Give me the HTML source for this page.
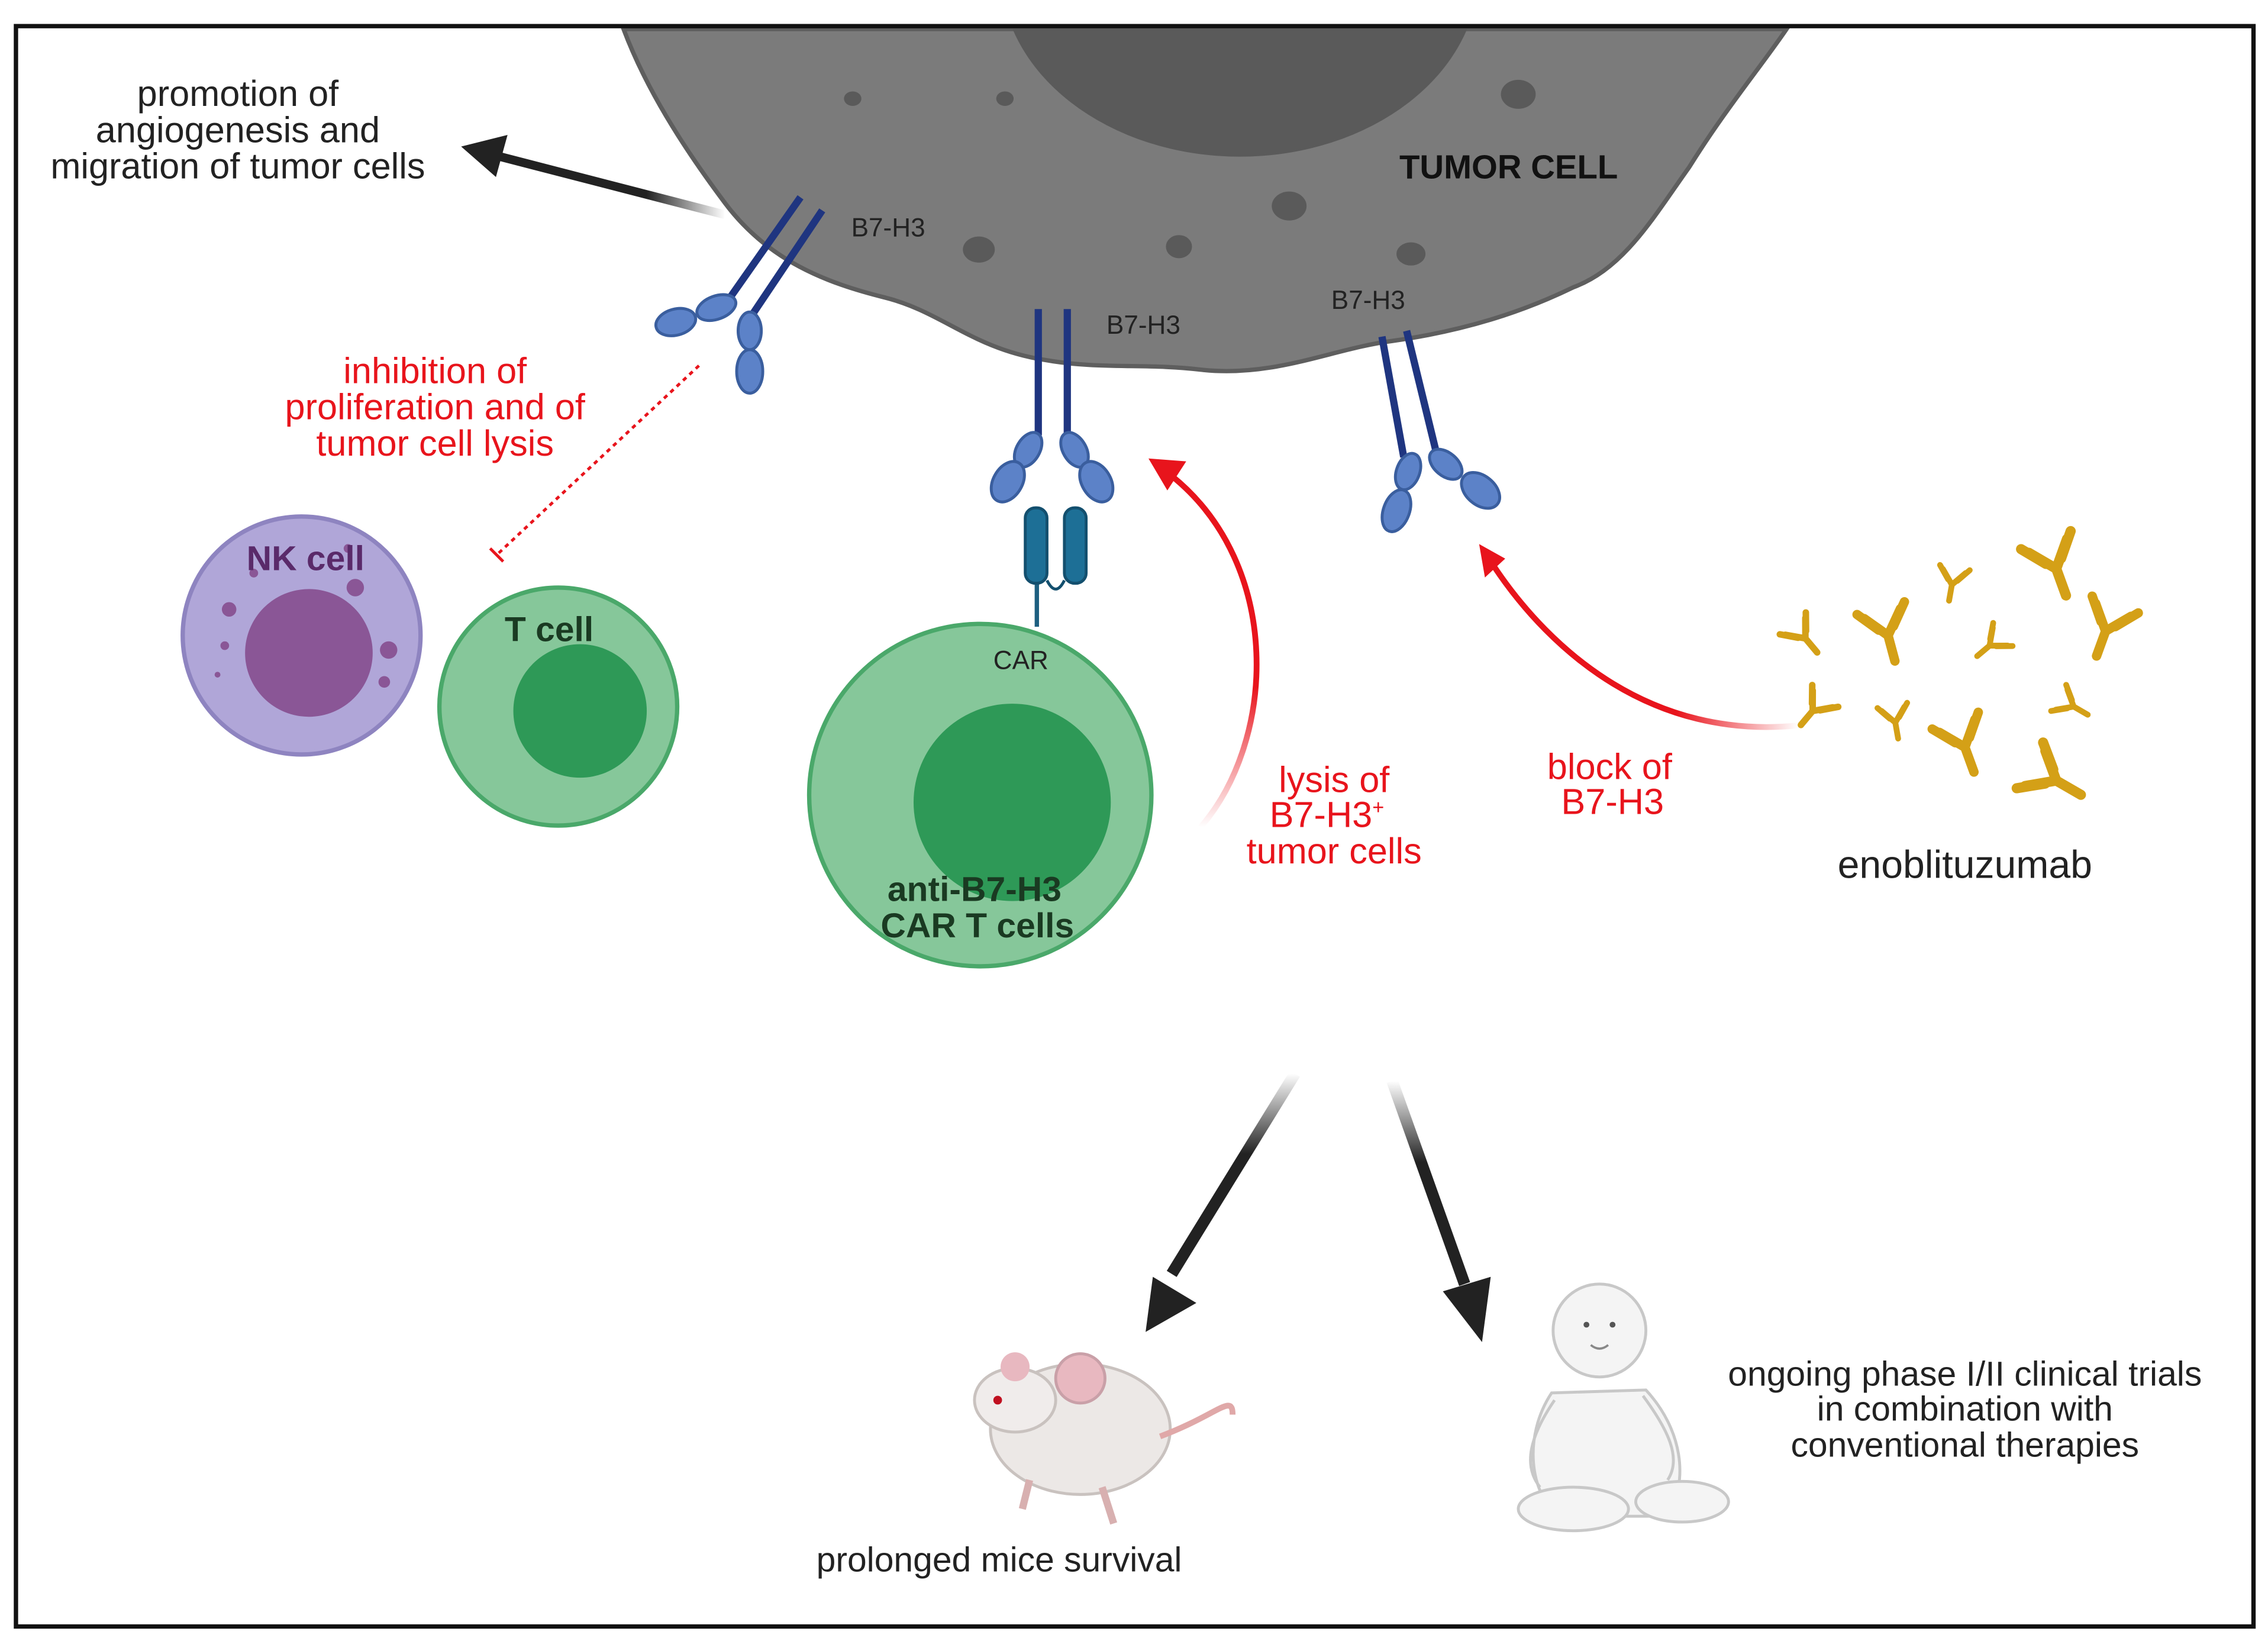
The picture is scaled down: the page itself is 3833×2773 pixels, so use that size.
<!DOCTYPE html>
<html><head><meta charset="utf-8"><style>
html,body{margin:0;padding:0;background:#fff;}
svg{display:block;}
text{font-family:"Liberation Sans",sans-serif;}
</style></head><body>
<svg width="3833" height="2773" viewBox="0 0 1564 1131" preserveAspectRatio="none" xmlns="http://www.w3.org/2000/svg">
<defs>
<linearGradient id="ga" x1="1" y1="0" x2="0" y2="0"><stop offset="0" stop-color="#222" stop-opacity="0"/><stop offset="0.35" stop-color="#222"/></linearGradient>
<linearGradient id="gd1" x1="0" y1="0" x2="0" y2="1"><stop offset="0" stop-color="#222" stop-opacity="0"/><stop offset="0.4" stop-color="#222"/></linearGradient>
<linearGradient id="gr1" x1="0" y1="1" x2="0" y2="0"><stop offset="0" stop-color="#e8141c" stop-opacity="0"/><stop offset="0.4" stop-color="#e8141c"/></linearGradient>
<linearGradient id="gr2" x1="1" y1="0" x2="0" y2="0"><stop offset="0" stop-color="#e8141c" stop-opacity="0"/><stop offset="0.4" stop-color="#e8141c"/></linearGradient>
<g id="ab" stroke="#d4a017" stroke-width="5" stroke-linecap="round" fill="none">
<path d="M0,0 L0,14 M0,0 L-10,-12 M0,0 L10,-12 M-4,-4 L-13,-15 M4,-4 L13,-15"/>
</g>
<clipPath id="tc"><path id="tcp" d="M430,20 C445,60 470,100 500,140 C530,180 570,195 610,205 C650,215 670,240 720,248 C760,255 790,250 830,255 C880,260 920,240 960,235 C1010,228 1050,215 1085,198 C1120,185 1140,150 1165,115 C1190,75 1215,45 1232,20 Z"/></clipPath>
</defs>
<rect x="0" y="0" width="1564" height="1131" fill="#fff"/>
<use href="#tcp" fill="#7b7b7b" stroke="#5e5e5e" stroke-width="3"/>
<ellipse cx="855" cy="-20" rx="165" ry="128" fill="#5a5a5a" clip-path="url(#tc)"/>
<g fill="#5a5a5a">
<ellipse cx="588" cy="68" rx="6" ry="5"/><ellipse cx="693" cy="68" rx="6" ry="5"/>
<ellipse cx="1047" cy="65" rx="12" ry="10"/><ellipse cx="889" cy="142" rx="12" ry="10"/>
<ellipse cx="675" cy="172" rx="11" ry="9"/><ellipse cx="813" cy="170" rx="9" ry="8"/>
<ellipse cx="973" cy="175" rx="10" ry="8"/>
</g>
<text x="965" y="123" font-size="23" font-weight="bold" fill="#111">TUMOR CELL</text>
<g stroke="#1f3580" stroke-width="5" fill="none">
<path d="M552,136 L500,210"/><path d="M567,145 L518,218"/>
<path d="M716,213 L716,300"/><path d="M736,213 L736,300"/>
<path d="M953,232 L968,315"/><path d="M970,228 L990,310"/>
</g>
<g fill="#5c82c8" stroke="#3a5e9e" stroke-width="2">
<ellipse cx="494" cy="212" rx="14" ry="8" transform="rotate(-20 494 212)"/>
<ellipse cx="466" cy="222" rx="14" ry="9" transform="rotate(-15 466 222)"/>
<ellipse cx="517" cy="228" rx="8" ry="13"/>
<ellipse cx="517" cy="256" rx="9" ry="15"/>
<ellipse cx="709" cy="310" rx="8" ry="13" transform="rotate(30 709 310)"/>
<ellipse cx="695" cy="332" rx="10" ry="15" transform="rotate(30 695 332)"/>
<ellipse cx="741" cy="310" rx="8" ry="13" transform="rotate(-30 741 310)"/>
<ellipse cx="756" cy="332" rx="10" ry="15" transform="rotate(-30 756 332)"/>
<ellipse cx="971" cy="325" rx="8" ry="13" transform="rotate(20 971 325)"/>
<ellipse cx="963" cy="352" rx="9" ry="15" transform="rotate(20 963 352)"/>
<ellipse cx="997" cy="320" rx="8" ry="13" transform="rotate(-50 997 320)"/>
<ellipse cx="1021" cy="338" rx="10" ry="15" transform="rotate(-50 1021 338)"/>
</g>
<text x="587" y="163" font-size="18" fill="#222">B7-H3</text>
<text x="763" y="230" font-size="18" fill="#222">B7-H3</text>
<text x="918" y="213" font-size="18" fill="#222">B7-H3</text>
<line x1="715" y1="395" x2="715" y2="432" stroke="#1d5f80" stroke-width="3"/>
<rect x="707" y="350" width="15" height="52" rx="7" fill="#1d6f96" stroke="#134f6e" stroke-width="2"/>
<rect x="734" y="350" width="15" height="52" rx="7" fill="#1d6f96" stroke="#134f6e" stroke-width="2"/>
<path d="M722,400 Q728,412 734,400" stroke="#134f6e" stroke-width="2" fill="none"/>
<circle cx="208" cy="438" r="82" fill="#b0a6d8" stroke="#8e84c0" stroke-width="3"/>
<circle cx="213" cy="450" r="44" fill="#8a5696"/>
<g fill="#8a5696"><circle cx="158" cy="420" r="5"/><circle cx="245" cy="405" r="6"/><circle cx="265" cy="470" r="4"/><circle cx="155" cy="445" r="3"/><circle cx="268" cy="448" r="6"/><circle cx="240" cy="378" r="3"/><circle cx="175" cy="395" r="3"/><circle cx="150" cy="465" r="2"/></g>
<text x="170" y="393" font-size="24" font-weight="bold" fill="#5a2a6a">NK cell</text>
<circle cx="385" cy="487" r="82" fill="#86c79a" stroke="#4aa86a" stroke-width="3"/>
<circle cx="400" cy="490" r="46" fill="#2e9957"/>
<text x="348" y="442" font-size="24" font-weight="bold" fill="#1a3a22">T cell</text>
<circle cx="676" cy="548" r="118" fill="#86c79a" stroke="#4aa86a" stroke-width="3"/>
<circle cx="698" cy="553" r="68" fill="#2e9957"/>
<text x="704" y="461" font-size="18" text-anchor="middle" fill="#222">CAR</text>
<text x="672" y="621" font-size="24" font-weight="bold" text-anchor="middle" fill="#1a3a22">anti-B7-H3</text>
<text x="674" y="646" font-size="24" font-weight="bold" text-anchor="middle" fill="#1a3a22">CAR T cells</text>
<g font-size="25" fill="#222" text-anchor="middle">
<text x="164" y="73">promotion of</text>
<text x="164" y="98">angiogenesis and</text>
<text x="164" y="123">migration of tumor cells</text>
</g>
<path d="M500,148 L345,108" stroke="url(#ga)" stroke-width="6"/>
<polygon points="318,101 350,93 342,122" fill="#222"/>
<g font-size="25" fill="#e8141c" text-anchor="middle">
<text x="300" y="264">inhibition of</text>
<text x="300" y="289">proliferation and of</text>
<text x="300" y="314">tumor cell lysis</text>
<text x="920" y="546">lysis of</text>
<text x="915" y="570">B7-H3<tspan font-size="14" dy="-9">+</tspan></text>
<text x="920" y="595">tumor cells</text>
<text x="1110" y="537">block of</text>
<text x="1112" y="561">B7-H3</text>
</g>
<path d="M482,252 L343,382" stroke="#e8141c" stroke-width="2" stroke-dasharray="3,3"/>
<line x1="338" y1="378" x2="347" y2="387" stroke="#e8141c" stroke-width="2"/>
<path d="M828,570 C880,510 885,390 808,328" stroke="url(#gr1)" stroke-width="4" fill="none"/>
<polygon points="792,316 818,318 805,338" fill="#e8141c"/>
<path d="M1240,500 C1140,510 1070,450 1030,390" stroke="url(#gr2)" stroke-width="4" fill="none"/>
<polygon points="1020,375 1038,385 1024,398" fill="#e8141c"/>
<use href="#ab" transform="translate(1418,392) rotate(-20) scale(1.4)"/>
<use href="#ab" transform="translate(1302,438) rotate(-15) scale(1.3)"/>
<use href="#ab" transform="translate(1452,435) rotate(20) scale(1.3)"/>
<use href="#ab" transform="translate(1346,403) rotate(10) scale(0.8)"/>
<use href="#ab" transform="translate(1245,440) rotate(-40) scale(0.9)"/>
<use href="#ab" transform="translate(1372,445) rotate(50) scale(0.8)"/>
<use href="#ab" transform="translate(1250,490) rotate(40) scale(0.9)"/>
<use href="#ab" transform="translate(1307,498) rotate(-10) scale(0.8)"/>
<use href="#ab" transform="translate(1430,487) rotate(-60) scale(0.8)"/>
<use href="#ab" transform="translate(1355,515) rotate(-20) scale(1.3)"/>
<use href="#ab" transform="translate(1418,538) rotate(-60) scale(1.4)"/>
<text x="1355" y="605" font-size="27" fill="#222" text-anchor="middle">enoblituzumab</text>
<path d="M893,740 L808,878" stroke="url(#gd1)" stroke-width="8"/>
<polygon points="790,918 795,880 825,898" fill="#222"/>
<path d="M960,745 L1010,885" stroke="url(#gd1)" stroke-width="8"/>
<polygon points="1022,925 995,890 1028,880" fill="#222"/>
<g>
<ellipse cx="745" cy="985" rx="62" ry="45" fill="#ece8e6" stroke="#c9c2bf" stroke-width="2"/>
<ellipse cx="700" cy="965" rx="28" ry="22" fill="#f0eceb" stroke="#c9c2bf" stroke-width="2"/>
<circle cx="745" cy="950" r="17" fill="#e8b8c0" stroke="#c9a0a8" stroke-width="2"/>
<circle cx="700" cy="942" r="10" fill="#e8b8c0"/>
<circle cx="688" cy="965" r="3" fill="#c01020"/>
<path d="M800,990 C840,975 850,960 850,975" stroke="#e0a8a8" stroke-width="4" fill="none"/>
<path d="M710,1020 L705,1040 M760,1025 L768,1050" stroke="#d8b0b0" stroke-width="5"/>
</g>
<text x="689" y="1083" font-size="24" fill="#222" text-anchor="middle">prolonged mice survival</text>
<g fill="#f4f4f4" stroke="#c8c8c8" stroke-width="2">
<path d="M1070,960 C1050,990 1055,1030 1075,1045 L1150,1045 C1165,1020 1160,985 1135,958 Z"/>
<ellipse cx="1085" cy="1040" rx="38" ry="15"/>
<ellipse cx="1160" cy="1035" rx="32" ry="14"/>
<path d="M1072,965 C1055,990 1050,1010 1062,1025" fill="none"/>
<path d="M1133,962 C1150,985 1160,1005 1150,1020" fill="none"/>
<circle cx="1103" cy="917" r="32"/>
</g>
<circle cx="1094" cy="913" r="2" fill="#555"/><circle cx="1112" cy="913" r="2" fill="#555"/>
<path d="M1097,927 Q1103,932 1109,927" stroke="#888" stroke-width="1.5" fill="none"/>
<g font-size="24" fill="#222" text-anchor="middle">
<text x="1355" y="955">ongoing phase I/II clinical trials</text>
<text x="1355" y="979">in combination with</text>
<text x="1355" y="1004">conventional therapies</text>
</g>
<rect x="11" y="18" width="1543" height="1103" fill="none" stroke="#111" stroke-width="3"/>
</svg>
</body></html>
